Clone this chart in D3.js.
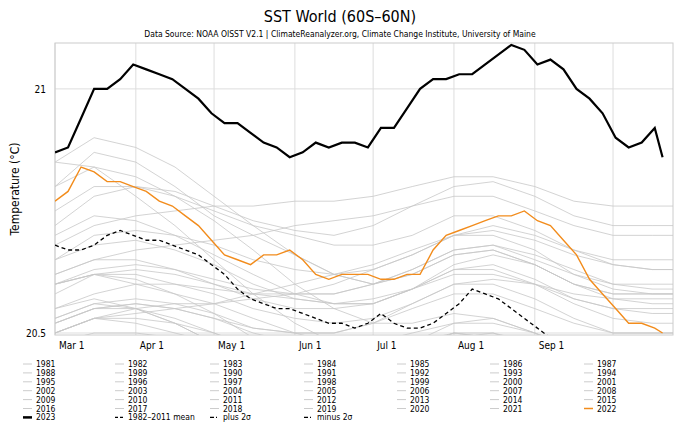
<!DOCTYPE html>
<html><head><meta charset="utf-8">
<script src="https://cdn.jsdelivr.net/npm/d3@7"></script>
<style>body{margin:0;background:#fff;font-family:"DejaVu Sans Condensed","DejaVu Sans",sans-serif}</style>
</head><body><svg id="c" width="680" height="433"></svg>
<script>
// days since Mar 1
var monthTicks = [0, 31, 61, 92, 122, 153, 184, 214];
var monthLabels = ["Mar 1", "Apr 1", "May 1", "Jun 1", "Jul 1", "Aug 1", "Sep 1", ""];
var yTicks = [20.5, 21];

var fineDays = [0,5,10,15,20,25,30,35,40,45,50,55,60,65,70,75,80,85,90,95,100,105,110,115,120,125,130,135,140,145,150,155,160,165,170,175,180,185,190,195,200,205,210,215,220,225,230,233];
var y2023 = [20.87,20.88,20.94,21.0,21.0,21.02,21.05,21.04,21.03,21.02,21.0,20.98,20.95,20.93,20.93,20.91,20.89,20.88,20.86,20.87,20.89,20.88,20.89,20.89,20.88,20.92,20.92,20.96,21.0,21.02,21.02,21.03,21.03,21.05,21.07,21.09,21.08,21.05,21.06,21.04,21.0,20.98,20.95,20.9,20.88,20.89,20.92,20.86];
var y2022 = [20.77,20.79,20.84,20.83,20.81,20.81,20.8,20.79,20.77,20.76,20.74,20.72,20.69,20.66,20.65,20.64,20.66,20.66,20.67,20.65,20.62,20.61,20.62,20.62,20.62,20.61,20.61,20.62,20.62,20.67,20.7,20.71,20.72,20.73,20.74,20.74,20.75,20.73,20.72,20.69,20.66,20.61,20.58,20.55,20.52,20.52,20.51,20.5];
var yMean = [20.68,20.67,20.67,20.68,20.7,20.71,20.7,20.69,20.69,20.68,20.67,20.66,20.64,20.62,20.59,20.57,20.56,20.55,20.55,20.54,20.53,20.52,20.52,20.51,20.52,20.54,20.52,20.51,20.51,20.52,20.54,20.56,20.59,20.58,20.57,20.55,20.53,20.51,20.49,20.47,20.45,20.43,20.41,20.39,20.38,20.37,20.36,20.35];

var knotDays = [0,15,31,46,61,76,92,107,122,137,153,168,184,199,214,229,237];
var grayYears = {
 1981:[20.42,20.45,20.44,20.42,20.38,20.34,20.3,20.28,20.27,20.28,20.3,20.3,20.27,20.24,20.22,20.2,20.2],
 1982:[20.45,20.47,20.45,20.42,20.4,20.36,20.32,20.3,20.3,20.32,20.34,20.32,20.28,20.25,20.23,20.22,20.22],
 1983:[20.6,20.62,20.6,20.58,20.56,20.53,20.5,20.48,20.47,20.48,20.5,20.49,20.45,20.4,20.37,20.35,20.35],
 1984:[20.4,20.42,20.4,20.38,20.35,20.3,20.27,20.25,20.25,20.26,20.28,20.27,20.24,20.2,20.18,20.17,20.17],
 1985:[20.35,20.37,20.36,20.33,20.3,20.26,20.23,20.21,20.2,20.21,20.23,20.22,20.19,20.16,20.14,20.13,20.13],
 1986:[20.38,20.4,20.39,20.37,20.35,20.32,20.3,20.29,20.3,20.32,20.35,20.35,20.33,20.3,20.29,20.28,20.28],
 1987:[20.52,20.55,20.56,20.55,20.53,20.5,20.48,20.47,20.48,20.5,20.52,20.52,20.5,20.47,20.45,20.44,20.44],
 1988:[20.55,20.57,20.55,20.52,20.48,20.43,20.39,20.36,20.35,20.36,20.38,20.38,20.35,20.31,20.29,20.28,20.28],
 1989:[20.38,20.4,20.4,20.38,20.36,20.34,20.32,20.31,20.32,20.34,20.37,20.37,20.35,20.32,20.3,20.3,20.3],
 1990:[20.5,20.53,20.53,20.52,20.5,20.47,20.45,20.44,20.45,20.47,20.5,20.5,20.47,20.44,20.42,20.41,20.41],
 1991:[20.5,20.53,20.52,20.5,20.48,20.45,20.43,20.42,20.42,20.44,20.47,20.47,20.44,20.41,20.39,20.38,20.38],
 1992:[20.53,20.56,20.55,20.52,20.48,20.43,20.38,20.35,20.33,20.33,20.35,20.35,20.32,20.29,20.27,20.26,20.26],
 1993:[20.45,20.48,20.47,20.45,20.43,20.4,20.37,20.36,20.36,20.38,20.41,20.41,20.38,20.35,20.33,20.32,20.32],
 1994:[20.43,20.45,20.45,20.44,20.42,20.4,20.39,20.39,20.4,20.43,20.46,20.46,20.44,20.41,20.39,20.39,20.39],
 1995:[20.52,20.55,20.55,20.53,20.5,20.47,20.45,20.44,20.45,20.47,20.5,20.49,20.46,20.42,20.4,20.39,20.39],
 1996:[20.45,20.47,20.46,20.44,20.42,20.39,20.37,20.36,20.37,20.39,20.42,20.42,20.39,20.36,20.34,20.33,20.33],
 1997:[20.5,20.53,20.54,20.55,20.56,20.58,20.6,20.62,20.64,20.67,20.7,20.71,20.69,20.66,20.64,20.63,20.63],
 1998:[20.85,20.84,20.78,20.72,20.65,20.58,20.52,20.48,20.46,20.47,20.49,20.48,20.44,20.4,20.37,20.35,20.35],
 1999:[20.42,20.44,20.43,20.41,20.38,20.35,20.33,20.32,20.32,20.34,20.37,20.37,20.34,20.3,20.28,20.27,20.27],
 2000:[20.45,20.47,20.47,20.45,20.43,20.4,20.38,20.37,20.38,20.4,20.43,20.43,20.4,20.37,20.35,20.34,20.34],
 2001:[20.53,20.56,20.57,20.56,20.54,20.51,20.5,20.5,20.52,20.55,20.58,20.58,20.55,20.52,20.5,20.5,20.5],
 2002:[20.58,20.62,20.63,20.62,20.6,20.58,20.57,20.56,20.57,20.59,20.62,20.62,20.6,20.57,20.55,20.55,20.55],
 2003:[20.62,20.65,20.65,20.63,20.6,20.57,20.55,20.55,20.56,20.59,20.63,20.64,20.61,20.57,20.55,20.54,20.54],
 2004:[20.6,20.62,20.62,20.6,20.58,20.55,20.53,20.52,20.53,20.56,20.6,20.6,20.57,20.53,20.5,20.5,20.5],
 2005:[20.65,20.68,20.69,20.67,20.64,20.6,20.57,20.56,20.56,20.59,20.63,20.63,20.6,20.56,20.53,20.52,20.52],
 2006:[20.52,20.55,20.56,20.55,20.53,20.51,20.5,20.5,20.52,20.56,20.6,20.61,20.6,20.58,20.57,20.57,20.57],
 2007:[20.6,20.62,20.61,20.58,20.54,20.49,20.45,20.42,20.41,20.42,20.44,20.44,20.41,20.37,20.35,20.34,20.34],
 2008:[20.42,20.45,20.46,20.45,20.43,20.41,20.4,20.4,20.42,20.45,20.49,20.5,20.48,20.45,20.43,20.43,20.43],
 2009:[20.5,20.53,20.55,20.56,20.56,20.57,20.58,20.6,20.63,20.66,20.7,20.72,20.7,20.67,20.65,20.65,20.65],
 2010:[20.8,20.84,20.82,20.78,20.73,20.67,20.6,20.55,20.52,20.52,20.54,20.53,20.5,20.46,20.43,20.42,20.42],
 2011:[20.48,20.5,20.5,20.49,20.47,20.45,20.44,20.44,20.45,20.48,20.52,20.53,20.5,20.47,20.45,20.44,20.44],
 2012:[20.55,20.58,20.6,20.6,20.59,20.58,20.58,20.58,20.6,20.63,20.67,20.68,20.66,20.63,20.6,20.6,20.6],
 2013:[20.6,20.63,20.64,20.63,20.61,20.59,20.58,20.58,20.6,20.63,20.67,20.68,20.65,20.62,20.6,20.59,20.59],
 2014:[20.62,20.65,20.67,20.68,20.69,20.7,20.72,20.73,20.74,20.76,20.78,20.78,20.75,20.72,20.7,20.7,20.7],
 2015:[20.68,20.72,20.74,20.75,20.76,20.76,20.77,20.77,20.78,20.8,20.82,20.82,20.8,20.77,20.76,20.76,20.76],
 2016:[20.85,20.9,20.88,20.84,20.78,20.72,20.66,20.62,20.6,20.62,20.66,20.67,20.64,20.6,20.58,20.58,20.58],
 2017:[20.75,20.8,20.8,20.78,20.75,20.72,20.7,20.68,20.68,20.7,20.74,20.74,20.71,20.67,20.64,20.63,20.63],
 2018:[20.65,20.7,20.71,20.7,20.68,20.65,20.63,20.62,20.63,20.66,20.7,20.7,20.67,20.62,20.59,20.58,20.58],
 2019:[20.72,20.78,20.8,20.79,20.76,20.73,20.71,20.7,20.72,20.76,20.8,20.81,20.78,20.74,20.72,20.72,20.72],
 2020:[20.8,20.87,20.85,20.8,20.74,20.7,20.66,20.62,20.6,20.62,20.66,20.67,20.64,20.6,20.58,20.58,20.58],
 2021:[20.7,20.74,20.73,20.7,20.66,20.62,20.58,20.56,20.56,20.59,20.64,20.66,20.64,20.6,20.57,20.56,20.56]
};

var svg = d3.select("#c");
var m = {l: 55, r: 673, t: 43, b: 335};
var x = d3.scaleLinear().domain([0, 237]).range([m.l, m.r]);
var y = d3.scaleLinear().domain([20.5, 21.094]).range([333, m.t]);

svg.append("text").attr("x", 340).attr("y", 22).attr("text-anchor", "middle")
  .attr("font-size", 16).text("SST World (60S\u201360N)");
svg.append("text").attr("x", 340).attr("y", 37).attr("text-anchor", "middle")
  .attr("font-size", 8.5).text("Data Source: NOAA OISST V2.1 | ClimateReanalyzer.org, Climate Change Institute, University of Maine");

svg.append("defs").append("clipPath").attr("id", "clip").append("rect")
  .attr("x", m.l).attr("y", m.t).attr("width", m.r - m.l).attr("height", m.b - m.t);

var grid = svg.append("g").attr("stroke", "#ddd").attr("stroke-width", 1);
monthTicks.forEach(function(d) {
  grid.append("line").attr("x1", x(d)).attr("x2", x(d)).attr("y1", m.t).attr("y2", m.b);
});
yTicks.forEach(function(d) {
  grid.append("line").attr("x1", m.l).attr("x2", m.r).attr("y1", y(d)).attr("y2", y(d));
});
svg.append("rect").attr("x", m.l).attr("y", m.t).attr("width", m.r - m.l).attr("height", m.b - m.t)
  .attr("fill", "none").attr("stroke", "#ccc");

monthTicks.forEach(function(d, i) {
  svg.append("text").attr("x", x(d) + 4).attr("y", 349).attr("font-size", 10).text(monthLabels[i]);
});
yTicks.forEach(function(d) {
  svg.append("text").attr("x", 46).attr("y", y(d) + 4).attr("text-anchor", "end").attr("font-size", 10).text(d);
});
svg.append("text").attr("transform", "translate(19,189) rotate(-90)").attr("text-anchor", "middle")
  .attr("font-size", 12).text("Temperature (\u00b0C)");

var plot = svg.append("g").attr("clip-path", "url(#clip)");
var line = d3.line().x(function(d) { return x(d[0]); }).y(function(d) { return y(d[1]); });

Object.keys(grayYears).forEach(function(k) {
  plot.append("path").datum(d3.zip(knotDays, grayYears[k])).attr("d", line)
    .attr("fill", "none").attr("stroke", "#c8c8c8").attr("stroke-width", 0.8);
});
plot.append("path").datum(d3.zip(fineDays, yMean)).attr("d", line)
  .attr("fill", "none").attr("stroke", "#000").attr("stroke-width", 1.3).attr("stroke-dasharray", "4,3");
plot.append("path").datum(d3.zip(fineDays, y2022)).attr("d", line)
  .attr("fill", "none").attr("stroke", "#f28c1c").attr("stroke-width", 1.4);
plot.append("path").datum(d3.zip(fineDays, y2023)).attr("d", line)
  .attr("fill", "none").attr("stroke", "#000").attr("stroke-width", 2.2);

// legend
var items = Object.keys(grayYears).map(function(k) { return {name: k, c: "#ccc", w: 1, dash: null}; });
items.push({name: "2022", c: "#f28c1c", w: 1.5, dash: null});
items.push({name: "2023", c: "#000", w: 2.5, dash: null});
items.push({name: "1982\u20132011 mean", c: "#000", w: 1.3, dash: "3,2"});
items.push({name: "plus 2\u03c3", c: "#000", w: 1.3, dash: "4,2,1,2"});
items.push({name: "minus 2\u03c3", c: "#000", w: 1.3, dash: "4,2,1,2"});
var colX = [23, 115, 210, 304, 397, 490, 584];
items.forEach(function(it, i) {
  var cx = colX[i % 7], cy = 364 + Math.floor(i / 7) * 8.9;
  svg.append("line").attr("x1", cx).attr("x2", cx + 9).attr("y1", cy).attr("y2", cy)
    .attr("stroke", it.c).attr("stroke-width", it.w).attr("stroke-dasharray", it.dash);
  svg.append("text").attr("x", cx + 13).attr("y", cy + 3).attr("font-size", 8.5).text(it.name);
});
</script></body></html>
